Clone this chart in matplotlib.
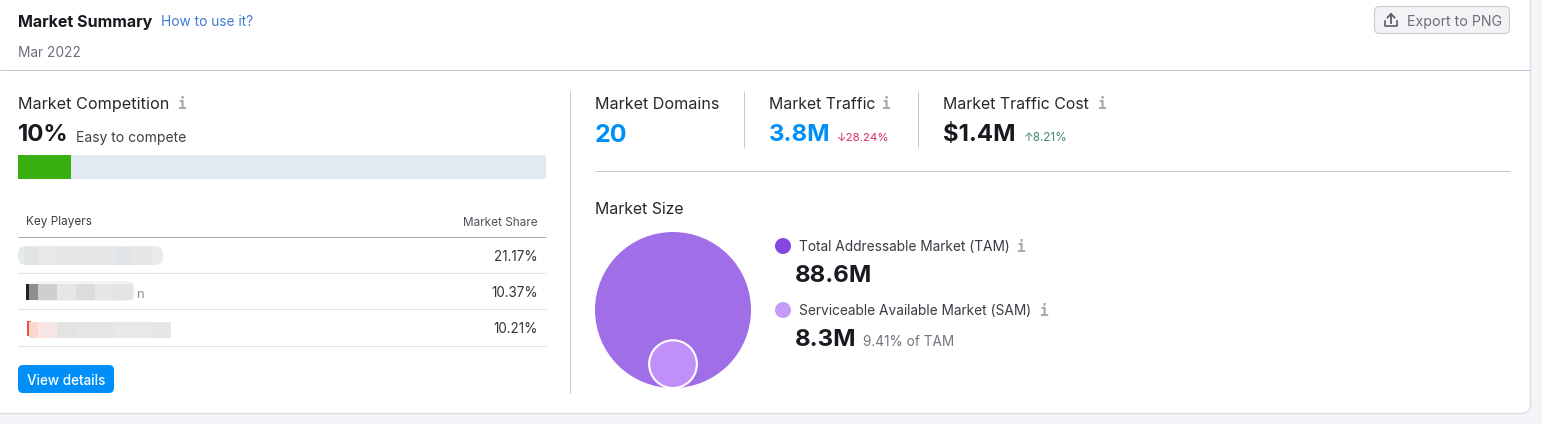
import numpy as np
import matplotlib
matplotlib.use("Agg")
import matplotlib.pyplot as plt
from matplotlib.patches import FancyBboxPatch, Circle, Rectangle

plt.rcParams['font.family'] = ['Inter', 'DejaVu Sans']

W, H = 1542, 424
competition_pct = 10
competition_label = "Easy to compete"
player_shares = ["21.17%", "10.37%", "10.21%"]
tam_value = 88.6
sam_value = 8.3
tam_label = "88.6M"
sam_label = "8.3M"
sam_of_tam = "9.41% of TAM"
domains_label = "20"
traffic_label = "3.8M"
traffic_delta = "↓28.24%"
cost_label = "$1.4M"
cost_delta = "↑8.21%"

DARK = "#181a20"
TXT = "#26282f"
GREY = "#6c6e79"
BLUE = "#008ff8"
LINK = "#3f7bd0"
LINE = "#c4c7cf"

fig = plt.figure(figsize=(W / 100, H / 100), dpi=100, facecolor="#f4f4f9")
ax = fig.add_axes([0, 0, 1, 1])
ax.set_xlim(0, W)
ax.set_ylim(H, 0)
ax.axis("off")


def px(s):
    return s * 0.72


def T(x, y, s, size, color=TXT, weight="normal", ha="left", **kw):
    return ax.text(x, y, s, fontsize=px(size), color=color, fontweight=weight,
                   ha=ha, va="center_baseline", **kw)


def rbox(x, y, w, h, r, fc, ec="none", lw=0, z=2):
    p = FancyBboxPatch((x + r, y + r), w - 2 * r, h - 2 * r,
                       boxstyle=f"round,pad={r},rounding_size={r}",
                       fc=fc, ec=ec, lw=lw, zorder=z)
    ax.add_patch(p)
    return p


def hline(y, x0, x1, c=LINE, lw=1.0):
    ax.plot([x0, x1], [y, y], color=c, lw=lw * 0.72, solid_capstyle="butt", zorder=3)


def vline(x, y0, y1, c=LINE, lw=1.0):
    ax.plot([x, x], [y0, y1], color=c, lw=lw * 0.72, solid_capstyle="butt", zorder=3)


def info(x, y):
    ax.text(x, y, "i", fontsize=px(14.5), color="#a4a8ac", family="DejaVu Sans Mono",
            fontweight="bold", ha="center", va="center_baseline", zorder=4)


def cells(rows, y, h):
    for x0, x1, c in rows:
        ax.add_patch(Rectangle((x0, y), x1 - x0, h, fc=c, ec="none", zorder=3))


# card
rbox(-20, -20, 1550.5, 433.5, 9, "white", ec="#dcdde2", lw=1, z=1)

# header
T(18, 21, "Market Summary", 16.1, DARK, "bold")
T(161, 21, "How to use it?", 13.7, LINK)
T(18, 51.5, "Mar 2022", 13.7, GREY)
hline(70, 0, 1530)

# export button
rbox(1374.5, 6.5, 135, 27, 5, "#f3f3f6", ec="#c9cbd2", lw=0.8)
ax.plot([1385, 1385, 1397, 1397], [21, 26, 26, 21], color="#5b5e69", lw=1.2, zorder=4)
ax.plot([1391, 1391], [23, 14], color="#5b5e69", lw=1.3, zorder=4)
ax.plot([1387.5, 1391, 1394.5], [17.5, 14, 17.5], color="#5b5e69", lw=1.3, zorder=4)
T(1407, 20.5, "Export to PNG", 14.2, "#6c6e79", zorder=4)

# competition
T(18, 103, "Market Competition", 16.2, TXT)
info(182, 103)
T(18, 132.5, f"{competition_pct}%", 24, DARK, "bold")
T(76, 136.5, competition_label, 13.95, "#3e4047")
bar_x, bar_w = 18, 528
rbox(bar_x, 155, bar_w, 24, 2, "#e3e9f0")
ax.barh([167], [bar_w * competition_pct / 100], left=bar_x, height=24,
        color="#38b011", zorder=3)

# table
T(26, 221, "Key Players", 11.8, "#3e4047")
T(538, 221, "Market Share", 11.8, "#4f5159", ha="right")
hline(237, 18, 546, "#a9a9b2")
for yy in (273, 309, 346):
    hline(yy, 18, 546, "#e0e1e8")
for s, yy in zip(player_shares, (255.5, 291.5, 327.5)):
    T(538, yy, s, 13.5, "#33353c", ha="right")

# redacted names
rbox(18, 246, 145, 19, 8, "#e9eaea", z=2)
cells([(24, 38, "#e0e4e4"), (38, 57, "#e9e9e8"), (57, 76, "#e6e6e5"),
       (76, 115, "#e6e6e5"), (115, 133, "#e2e5e7"), (133, 152, "#e8e7e5")], 247, 18)
ax.add_patch(Rectangle((26, 284), 6, 16, fc="#222222", ec="none", zorder=2))
rbox(29, 281, 106, 20, 8, "#f4f4f4", z=2)
cells([(29, 38, "#8e8e8e"), (38, 57, "#d0cfcd"), (57, 76, "#e6e6e5"),
       (76, 95, "#dcdcdc"), (95, 114, "#e6e6e6"), (114, 133, "#e4e4e3")], 284, 16)
T(137, 293, "n", 13, "#8d8d8d", zorder=2)
ax.add_patch(Rectangle((27, 321), 4, 15, fc="#e9553f", ec="none", zorder=2))
cells([(29, 38, "#fbd5d0"), (38, 57, "#f7e6e3"), (57, 76, "#e2e4e2"),
       (76, 114, "#e5e5e4"), (114, 152, "#e8e8e7"), (152, 171, "#e6e6e6")], 321.5, 16)

# details button
rbox(18, 365, 96, 28, 5, BLUE)
T(66.5, 379.5, "View details", 13.5, "white", "medium", ha="center", zorder=4)

# dividers
vline(570, 91, 393)
vline(744, 91, 147)
vline(918, 91, 147)
hline(171, 595, 1510)

# metrics
T(595, 103, "Market Domains", 16.1, TXT)
T(595, 132.5, domains_label, 25, BLUE, "bold")
T(769, 103, "Market Traffic", 15.8, TXT)
info(886, 103)
T(769, 132.5, traffic_label, 24, BLUE, "bold")
T(837, 136.5, traffic_delta, 11.5, "#d92b5c")
T(943, 103, "Market Traffic Cost", 15.85, TXT)
info(1102, 103)
T(943, 132.5, cost_label, 24, DARK, "bold")
T(1024, 136.5, cost_delta, 11.7, "#3f8c63")

# market size
T(595, 208, "Market Size", 15.8, TXT)
tam_r = 78
sam_r = tam_r * np.sqrt(sam_value / tam_value)
cx, base = 673, 388
ax.add_patch(Circle((cx, base - tam_r), tam_r, fc="#a06fe8", ec="none", zorder=2))
ax.add_patch(Circle((cx, base - sam_r), sam_r, fc="#c08ffa", ec="white", lw=1.5, zorder=3))

ax.add_patch(Circle((783, 246), 8, fc="#8447e2", ec="none", zorder=3))
T(799, 245.5, "Total Addressable Market (TAM)", 13.7, "#3a3c44")
info(1021, 245.5)
T(795, 273, tam_label, 24, DARK, "bold")
ax.add_patch(Circle((783, 310), 8, fc="#c59bf8", ec="none", zorder=3))
T(799, 309.5, "Serviceable Available Market (SAM)", 13.7, "#3a3c44")
info(1044, 309.5)
T(795, 337, sam_label, 24, DARK, "bold")
T(863, 340.5, sam_of_tam, 13.6, "#74767f")

fig.savefig("out.png", dpi=100, facecolor=fig.get_facecolor())
